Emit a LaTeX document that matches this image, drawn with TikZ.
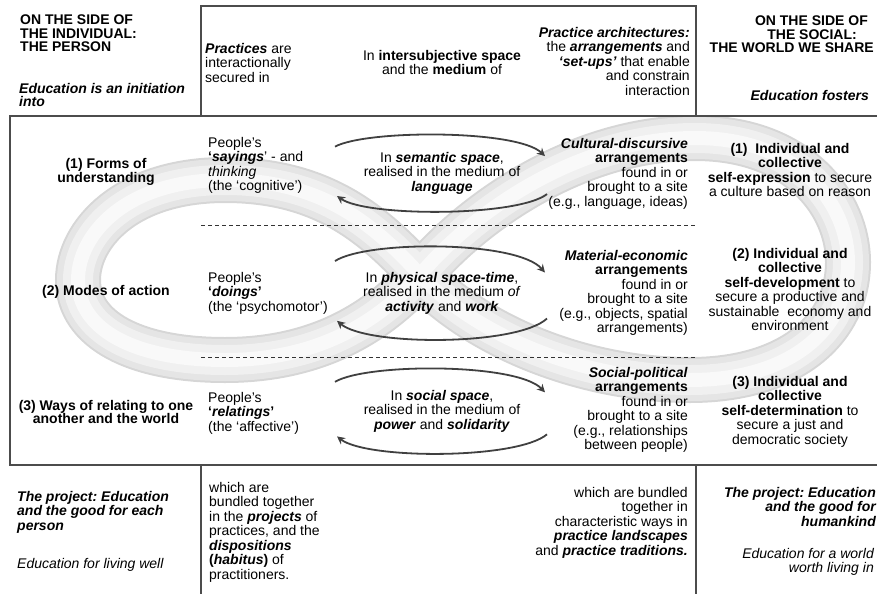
\documentclass[tikz,border=0pt]{standalone}
\usepackage{fontspec}
\setmainfont{Liberation Sans}
\usetikzlibrary{arrows.meta}
\frenchspacing

\begin{document}
\begin{tikzpicture}[x=1pt, y=-1pt,
    txt/.style={inner sep=0pt, font=\fontsize{14}{14.5}\selectfont},
    head/.style={inner sep=0pt, font=\fontsize{14}{13.5}\selectfont\bfseries},
    frame/.style={line width=1.2pt, black!70},
    cyc/.style={line width=1.8pt, black!75, -{Stealth[length=8pt,width=8pt]}}]
    \useasboundingbox (0,0) rectangle (877,594);

    % the ribbon behind the three rows
    \foreach \w/\c in {46/gray!32, 42/gray!20, 30/gray!12, 14/gray!5} {
        \draw[line width=\w pt, \c] (420,275) .. controls (372,222) and (320,180) .. (225,180)
            .. controls (125,180) and (78,235) .. (78,280)
            .. controls (78,330) and (135,360) .. (225,360)
            .. controls (320,360) and (380,320) .. (420,275)
            .. controls (470,215) and (575,138) .. (695,138)
            .. controls (800,138) and (848,205) .. (848,262)
            .. controls (848,330) and (790,380) .. (690,380)
            .. controls (575,380) and (470,330) .. cycle;
    }

    % frames
    \draw[frame] (201,6) rectangle (696,116);
    \draw[frame] (880,116) -- (10,116) -- (10,465) -- (880,465);
    \draw[frame] (201,465) -- (201,594);
    \draw[frame] (696,465) -- (696,594);
    \draw[dashed, dash pattern=on 4pt off 3pt, black!80] (201,225) -- (696,225);
    \draw[dashed, dash pattern=on 4pt off 3pt, black!80] (201,357) -- (696,357);

    % top strip
    \node[head, align=left, anchor=north west] (person) at (20,15) {ON THE SIDE OF\\THE INDIVIDUAL:\\THE PERSON};
    \node[txt, align=left, anchor=north west, font=\fontsize{14}{13.5}\selectfont\bfseries\itshape] (initiation) at (19,83) {Education is an initiation\\into};
    \node[txt, align=left, anchor=north west] (secured) at (205,43) {\textbf{\textit{Practices}} are\\interactionally\\secured in};
    \node[txt, align=center, anchor=north] (intersub) at (442,50) {In \textbf{intersubjective space}\\and the \textbf{medium} of};
    \node[txt, align=right, anchor=north east] (archi) at (690,27) {\textbf{\textit{Practice architectures:}}\\the \textbf{\textit{arrangements}} and\\\textbf{\textit{`set-ups'}} that enable\\and constrain\\interaction};
    \node[head, align=right, anchor=north east] (social) at (874,16) {ON THE SIDE OF\hspace{6pt}\mbox{}\\THE SOCIAL:\hspace{17pt}\mbox{}\\THE WORLD WE SHARE};
    \node[txt, anchor=north east, font=\fontsize{14}{14.5}\selectfont\bfseries\itshape] (fosters) at (869,90) {Education fosters};

    % row 1
    \node[txt, align=center, anchor=north, font=\fontsize{14}{14.5}\selectfont\bfseries] (forms) at (106,158) {(1) Forms of\\understanding};
    \node[txt, align=left, anchor=north west] (sayings) at (208,137) {People's\\\textbf{`\textit{sayings}}' - and\\\textit{thinking}\\(the `cognitive')};
    \node[txt, align=center, anchor=north] (semantic) at (442,152) {In \textbf{\textit{semantic space}},\\realised in the medium of\\\textbf{\textit{language}}};
    \node[txt, align=right, anchor=north east] (cultural) at (688,138) {\textbf{\textit{Cultural-discursive}}\\\textbf{arrangements}\\found in or\\brought to a site\\(e.g., language, ideas)};
    \node[txt, align=center, anchor=north] (expression) at (790,143) {\textbf{(1)\ \ Individual and}\\\textbf{collective}\\\textbf{self-expression} to secure\\a culture based on reason};

    % row 2
    \node[txt, anchor=north, font=\fontsize{14}{14.5}\selectfont\bfseries] (modes) at (106,285) {(2) Modes of action};
    \node[txt, align=left, anchor=north west] (doings) at (208,272) {People's\\\textbf{`\textit{doings}'}\\(the `psychomotor')};
    \node[txt, align=center, anchor=north] (physical) at (442,272) {In \textbf{\textit{physical space-time}},\\realised in the medium \textit{of}\\\textbf{\textit{activity}} and \textbf{\textit{work}}};
    \node[txt, align=right, anchor=north east] (material) at (688,250) {\textbf{\textit{Material-economic}}\\\textbf{arrangements}\\found in or\\brought to a site\\(e.g., objects, spatial\\arrangements)};
    \node[txt, align=center, anchor=north] (development) at (790,248) {\textbf{(2) Individual and}\\\textbf{collective}\\\textbf{self-development} to\\secure a productive and\\sustainable\ \ economy and\\environment};

    % row 3
    \node[txt, align=center, anchor=north, font=\fontsize{14}{13.5}\selectfont\bfseries] (relating) at (106,400) {(3) Ways of relating to one\\another and the world};
    \node[txt, align=left, anchor=north west] (relatings) at (208,392) {People's\\\textbf{`\textit{relatings}'}\\(the `affective')};
    \node[txt, align=center, anchor=north] (socialspace) at (442,390) {In \textbf{\textit{social space}},\\realised in the medium of\\\textbf{\textit{power}} and \textbf{\textit{solidarity}}};
    \node[txt, align=right, anchor=north east] (political) at (688,367) {\textbf{\textit{Social-political}}\\\textbf{arrangements}\\found in or\\brought to a site\\(e.g., relationships\\between people)};
    \node[txt, align=center, anchor=north] (determination) at (790,376) {\textbf{(3) Individual and}\\\textbf{collective}\\\textbf{self-determination} to\\secure a just and\\democratic society};

    % the circling arrows round the three media
    \foreach \n/\h in {semantic/38, physical/46, socialspace/42} {
        \draw[cyc] ([shift={(-107,-0.7*\h)}]\n.center) .. controls ([shift={(-75,-1.15*\h)}]\n.center) and ([shift={(75,-1.15*\h)}]\n.center) .. ([shift={(103,-0.45*\h)}]\n.center);
        \draw[cyc] ([shift={(105,0.55*\h)}]\n.center) .. controls ([shift={(75,1.15*\h)}]\n.center) and ([shift={(-75,1.15*\h)}]\n.center) .. ([shift={(-105,0.6*\h)}]\n.center);
    }

    % bottom strip
    \node[txt, align=left, anchor=north west, font=\fontsize{14}{14.5}\selectfont\bfseries\itshape] (eachperson) at (17,491) {The project: Education\\and the good for each\\person};
    \node[txt, anchor=north west, font=\fontsize{14}{14.5}\selectfont\itshape] (livingwell) at (17,558) {Education for living well};
    \node[txt, align=left, anchor=north west] (bundled) at (209,482) {which are\\bundled together\\in the \textbf{\textit{projects}} of\\practices, and the\\\textbf{\textit{dispositions}}\\\textbf{(\textit{habitus})} of\\practitioners.};
    \node[txt, align=right, anchor=north east] (landscapes) at (688,487) {which are bundled\\together in\\characteristic ways in\\\textbf{\textit{practice landscapes}}\\and \textbf{\textit{practice traditions.}}};
    \node[txt, align=right, anchor=north east, font=\fontsize{14}{14.5}\selectfont\bfseries\itshape] (humankind) at (876,487) {The project: Education\\and the good for\\humankind};
    \node[txt, align=right, anchor=north east, font=\fontsize{14}{14.5}\selectfont\itshape] (worthliving) at (874,548) {Education for a world\\worth living in};
\end{tikzpicture}
\end{document}
